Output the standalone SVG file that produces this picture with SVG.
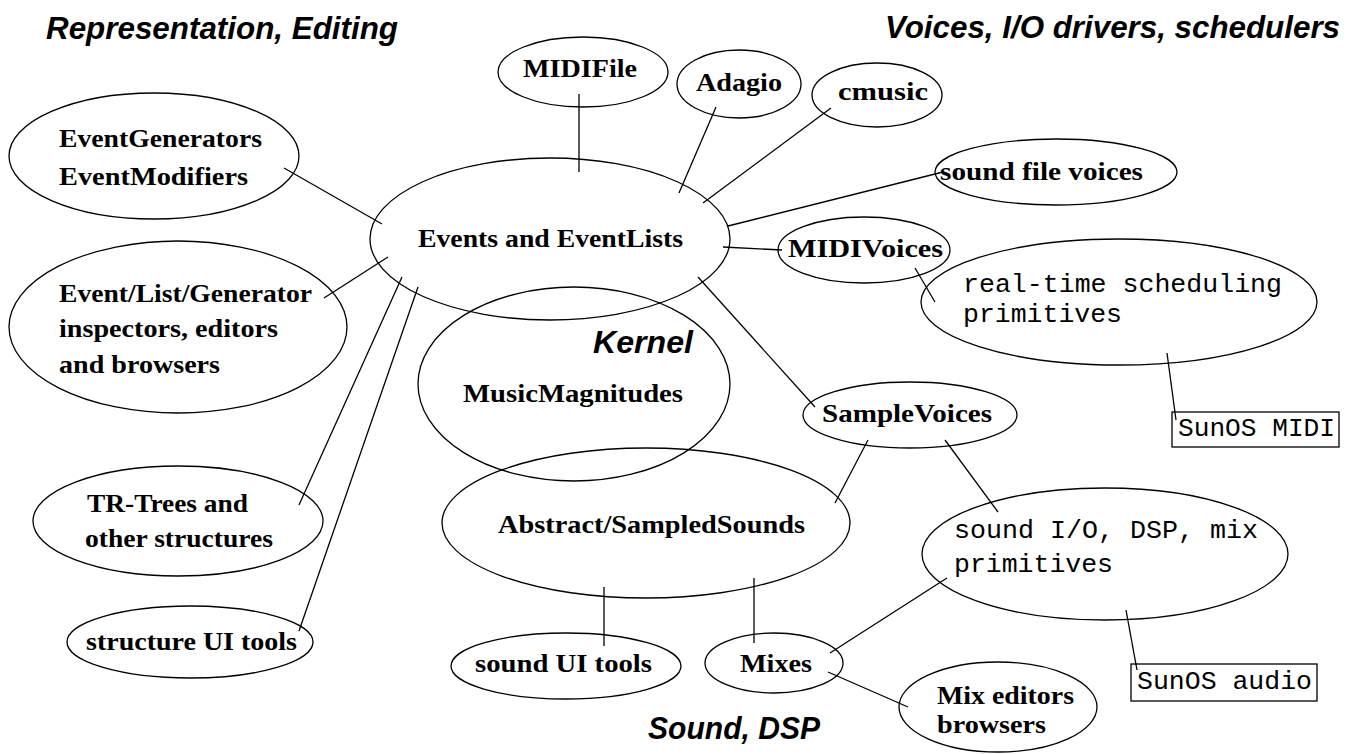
<svg xmlns="http://www.w3.org/2000/svg" width="1357" height="754" viewBox="0 0 1357 754">
<style>
.bg{fill:#fff}
.n{fill:none;stroke:#000;stroke-width:1.3}
.c line{stroke:#000;stroke-width:1.3}
.t{font-family:"Liberation Serif","Times New Roman",serif;font-weight:bold;font-size:25px;fill:#000}
.m{font-family:"Liberation Mono","Courier New",monospace;font-size:26.5px;fill:#000}
.h{font-family:"Liberation Sans",Arial,sans-serif;font-weight:bold;font-style:italic;font-size:31px;fill:#000}
</style>
<rect class="bg" x="0" y="0" width="1357" height="754"/>
<g id="titles">
<text class="h" x="46" y="39" textLength="352" lengthAdjust="spacingAndGlyphs">Representation, Editing</text>
<text class="h" x="885" y="38" textLength="455" lengthAdjust="spacingAndGlyphs">Voices, I/O drivers, schedulers</text>
<text class="h" x="648" y="739" textLength="172" lengthAdjust="spacingAndGlyphs">Sound, DSP</text>
</g>
<g class="c" id="connectors">
<line x1="284" y1="168" x2="382" y2="224"/>
<line x1="324" y1="298" x2="388" y2="257"/>
<line x1="402" y1="277" x2="299" y2="505"/>
<line x1="418" y1="287" x2="299" y2="631"/>
<line x1="579" y1="94" x2="579" y2="172"/>
<line x1="716" y1="107" x2="679" y2="193"/>
<line x1="831" y1="108" x2="703" y2="203"/>
<line x1="728" y1="226" x2="943" y2="172"/>
<line x1="723" y1="247" x2="782" y2="250"/>
<line x1="915" y1="268" x2="935" y2="302"/>
<line x1="1167" y1="353" x2="1176" y2="420"/>
<line x1="698" y1="277" x2="815" y2="407"/>
<line x1="868" y1="440" x2="835" y2="503"/>
<line x1="945" y1="440" x2="998" y2="512"/>
<line x1="604" y1="587" x2="604" y2="646"/>
<line x1="754" y1="578" x2="754" y2="643"/>
<line x1="830" y1="653" x2="947" y2="578"/>
<line x1="828" y1="672" x2="908" y2="707"/>
<line x1="1126" y1="610" x2="1137" y2="670"/>
</g>
<g id="eventgenerators">
<ellipse class="n" cx="154" cy="156" rx="145" ry="63"/>
<text class="t" x="59" y="147" textLength="203" lengthAdjust="spacingAndGlyphs">EventGenerators</text>
<text class="t" x="59" y="185" textLength="189" lengthAdjust="spacingAndGlyphs">EventModifiers</text>
</g>
<g id="events">
<ellipse class="n" cx="550" cy="239" rx="180" ry="81"/>
<text class="t" x="418" y="247" textLength="265" lengthAdjust="spacingAndGlyphs">Events and EventLists</text>
</g>
<g id="midifile">
<ellipse class="n" cx="583" cy="72" rx="85" ry="35"/>
<text class="t" x="523" y="77" textLength="114" lengthAdjust="spacingAndGlyphs">MIDIFile</text>
</g>
<g id="adagio">
<ellipse class="n" cx="739" cy="84" rx="62" ry="34"/>
<text class="t" x="696" y="91" textLength="86" lengthAdjust="spacingAndGlyphs">Adagio</text>
</g>
<g id="cmusic">
<ellipse class="n" cx="877" cy="95" rx="65" ry="32"/>
<text class="t" x="838" y="100" textLength="90" lengthAdjust="spacingAndGlyphs">cmusic</text>
</g>
<g id="soundfilevoices">
<ellipse class="n" cx="1056" cy="172" rx="121" ry="33"/>
<text class="t" x="940" y="180" textLength="203" lengthAdjust="spacingAndGlyphs">sound file voices</text>
</g>
<g id="midivoices">
<ellipse class="n" cx="864" cy="250" rx="86" ry="33"/>
<text class="t" x="788" y="257" textLength="155" lengthAdjust="spacingAndGlyphs">MIDIVoices</text>
</g>
<g id="realtime">
<ellipse class="n" cx="1119" cy="302" rx="198" ry="63"/>
<text class="m" x="963" y="292" textLength="319" lengthAdjust="spacingAndGlyphs">real-time scheduling</text>
<text class="m" x="963" y="322" textLength="159" lengthAdjust="spacingAndGlyphs">primitives</text>
</g>
<g id="sunosmidi">
<rect class="n" x="1172" y="412" width="167" height="35"/>
<text class="m" x="1178" y="436" textLength="157" lengthAdjust="spacingAndGlyphs">SunOS MIDI</text>
</g>
<g id="inspectors">
<ellipse class="n" cx="178" cy="327" rx="169" ry="86"/>
<text class="t" x="59" y="302" textLength="253" lengthAdjust="spacingAndGlyphs">Event/List/Generator</text>
<text class="t" x="59" y="337" textLength="219" lengthAdjust="spacingAndGlyphs">inspectors, editors</text>
<text class="t" x="59" y="373" textLength="161" lengthAdjust="spacingAndGlyphs">and browsers</text>
</g>
<g id="kernel">
<ellipse class="n" cx="574" cy="384" rx="156" ry="97"/>
<text class="h" x="593" y="353" textLength="100" lengthAdjust="spacingAndGlyphs">Kernel</text>
<text class="t" x="463" y="402" textLength="220" lengthAdjust="spacingAndGlyphs">MusicMagnitudes</text>
</g>
<g id="samplevoices">
<ellipse class="n" cx="910" cy="415" rx="107" ry="33"/>
<text class="t" x="822" y="422" textLength="170" lengthAdjust="spacingAndGlyphs">SampleVoices</text>
</g>
<g id="abstract">
<ellipse class="n" cx="646" cy="523" rx="204" ry="75"/>
<text class="t" x="498" y="533" textLength="307" lengthAdjust="spacingAndGlyphs">Abstract/SampledSounds</text>
</g>
<g id="trtrees">
<ellipse class="n" cx="178" cy="521" rx="145" ry="55"/>
<text class="t" x="87" y="512" textLength="161" lengthAdjust="spacingAndGlyphs">TR-Trees and</text>
<text class="t" x="85" y="547" textLength="188" lengthAdjust="spacingAndGlyphs">other structures</text>
</g>
<g id="structureui">
<ellipse class="n" cx="190" cy="642" rx="123" ry="36"/>
<text class="t" x="86" y="650" textLength="211" lengthAdjust="spacingAndGlyphs">structure UI tools</text>
</g>
<g id="soundui">
<ellipse class="n" cx="566" cy="666" rx="115" ry="33"/>
<text class="t" x="475" y="672" textLength="177" lengthAdjust="spacingAndGlyphs">sound UI tools</text>
</g>
<g id="mixes">
<ellipse class="n" cx="774" cy="663" rx="69" ry="30"/>
<text class="t" x="740" y="672" textLength="72" lengthAdjust="spacingAndGlyphs">Mixes</text>
</g>
<g id="soundio">
<ellipse class="n" cx="1105" cy="554" rx="183" ry="66"/>
<text class="m" x="954" y="538" textLength="304" lengthAdjust="spacingAndGlyphs">sound I/O, DSP, mix</text>
<text class="m" x="954" y="572" textLength="159" lengthAdjust="spacingAndGlyphs">primitives</text>
</g>
<g id="sunosaudio">
<rect class="n" x="1131" y="664" width="186" height="37"/>
<text class="m" x="1137" y="689" textLength="175" lengthAdjust="spacingAndGlyphs">SunOS audio</text>
</g>
<g id="mixeditors">
<ellipse class="n" cx="998" cy="707" rx="99" ry="45"/>
<text class="t" x="937" y="704" textLength="137" lengthAdjust="spacingAndGlyphs">Mix editors</text>
<text class="t" x="937" y="733" textLength="109" lengthAdjust="spacingAndGlyphs">browsers</text>
</g>
</svg>
